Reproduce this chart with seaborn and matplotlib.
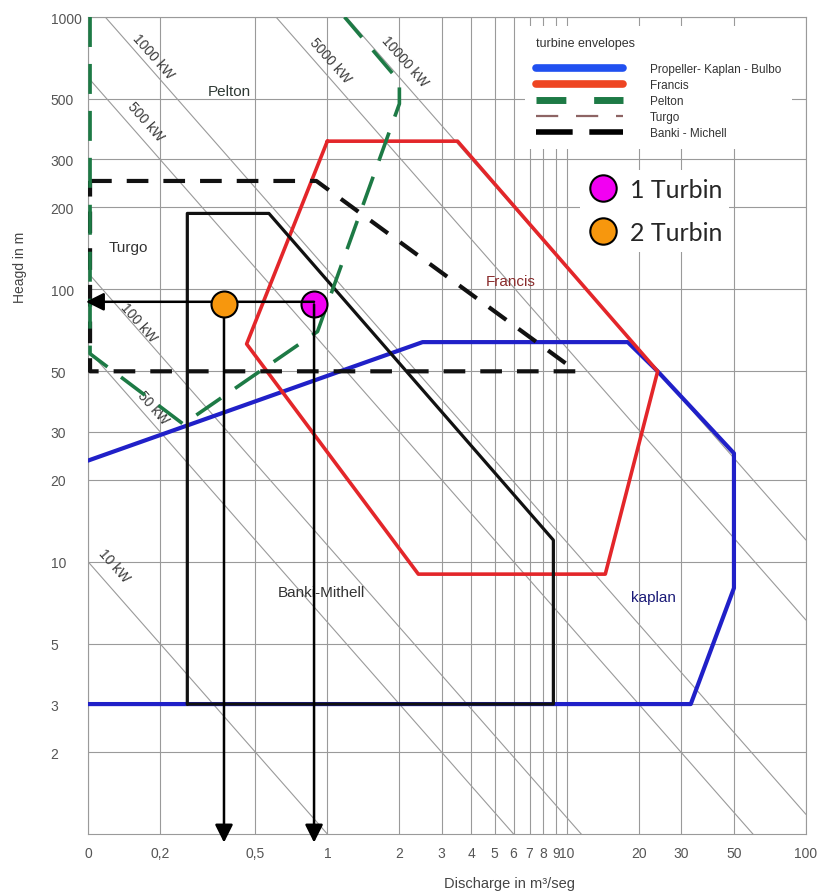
import numpy as np
import pandas as pd
import seaborn as sns
import matplotlib.pyplot as plt
from matplotlib.lines import Line2D

# --- envelopes: discharge Q (m3/s) and head H (m) ---
kaplan_q = [0.1, 2.5, 18, 24, 50, 50, 33, 0.1]
kaplan_h = [23.5, 64, 64, 50, 25, 8, 3, 3]

francis_q = [1.0, 3.5, 24, 14.5, 2.4, 0.46, 1.0]
francis_h = [350, 350, 50, 9, 9, 63, 350]

pelton_q = [0.102, 0.102, 0.25, 0.91, 2.0, 2.0, 1.18]
pelton_h = [1000, 58, 32, 70, 480, 580, 1000]

turgo_q = [0.102, 0.9, 11, 0.102, 0.102]
turgo_h = [250, 250, 50, 50, 250]

banki_q = [0.26, 0.26, 0.57, 8.8, 8.8, 0.26]
banki_h = [3, 190, 190, 12, 3, 3]

# --- constant power lines (Q*H along each line) ---
power_labels = ["10 kW", "50 kW", "100 kW", "500 kW", "1000 kW", "5000 kW", "10000 kW"]
power_qh = [1.0, 6.0, 11.5, 60, 118, 610, 1200]
power_label_q = [0.128, 0.187, 0.163, 0.174, 0.187, 1.03, 2.11]
power_label_h = [9.75, 36.8, 76, 415, 719, 695, 689]

# --- operating points ---
turbine_names = ["1 Turbin", "2 Turbin"]
turbine_q = [0.88, 0.37]
turbine_h = [88, 88]
turbine_colors = ["#f200f2", "#f7970d"]

envelope_names = ["Propeller- Kaplan - Bulbo", "Francis", "Pelton", "Turgo", "Banki - Michell"]

x_ticks = [0.1, 0.2, 0.5, 1, 2, 3, 4, 5, 6, 7, 8, 9, 10, 20, 30, 50, 100]
x_labels = ["0", "0,2", "0,5", "1", "2", "3", "4", "5", "6", "7", "8", "9", "10", "20", "30", "50", "100"]
y_ticks = [2, 3, 5, 10, 20, 30, 50, 100, 200, 300, 500, 1000]

sns.set_theme(style="white")
plt.rcParams["font.family"] = ["Liberation Sans", "DejaVu Sans"]

W, H = 826, 895
fig = plt.figure(figsize=(W / 100, H / 100), dpi=100)
fig.patch.set_facecolor("white")
ax = fig.add_axes([88 / W, (H - 835) / H, (806 - 88) / W, (835 - 18) / H])
ax.set_xscale("log")
ax.set_yscale("log")
ax.set_xlim(0.1, 100)
ax.set_ylim(1, 1000)

# power lines
q_ends = np.array([0.1, 100.0])
for qh in power_qh:
    sns.lineplot(x=q_ends, y=qh / q_ends, sort=False, estimator=None,
                 color="#9a9a9a", lw=0.8, ax=ax, zorder=1.5)
for lab, lq, lh in zip(power_labels, power_label_q, power_label_h):
    ax.text(lq, lh, lab, rotation=-48.6, ha="center", va="center",
            fontsize=10, color="#3a3a3a", zorder=2)

# envelopes
env = [
    (kaplan_q, kaplan_h, dict(color="#2020c8", lw=3.0)),
    (francis_q, francis_h, dict(color="#e3262a", lw=2.6)),
    (banki_q, banki_h, dict(color="#111111", lw=2.3)),
    (turgo_q, turgo_h, dict(color="#111111", lw=3.0, linestyle=(0, (5.2, 3.6)))),
    (pelton_q, pelton_h, dict(color="#1d7a45", lw=2.6, linestyle=(0, (8.3, 4.7)))),
]
for q, h, kw in env:
    df = pd.DataFrame({"Q": q, "H": h})
    sns.lineplot(data=df, x="Q", y="H", sort=False, estimator=None, ax=ax,
                 zorder=3, **kw)

# region labels
ax.text(0.39, 534, "Pelton", ha="center", va="center", fontsize=11, color="#2f3a35")
ax.text(0.147, 143, "Turgo", ha="center", va="center", fontsize=11, color="#333333")
ax.text(5.84, 107, "Francis", ha="center", va="center", fontsize=11, color="#8a2c2c")
ax.text(0.94, 7.76, "Banki-Mithell", ha="center", va="center", fontsize=11, color="#333333")
ax.text(23, 7.4, "kaplan", ha="center", va="center", fontsize=11, color="#1a1a78")

# arrows from the operating points
arrow = dict(arrowstyle="-|>,head_length=0.6,head_width=0.3", color="black",
             lw=1.8, mutation_scale=18, shrinkA=0, shrinkB=0)
ax.annotate("", xy=(0.098, 90), xytext=(turbine_q[0], 90), arrowprops=arrow,
            annotation_clip=False, zorder=4)
for q, h in zip(turbine_q, turbine_h):
    ax.annotate("", xy=(q, 0.93), xytext=(q, h), arrowprops=arrow,
                annotation_clip=False, zorder=4)

sns.scatterplot(x=[turbine_q[0]], y=[turbine_h[0]], s=350, color=turbine_colors[0],
                edgecolor="black", linewidth=1.5, ax=ax, zorder=3.5)
sns.scatterplot(x=[turbine_q[1]], y=[turbine_h[1]], s=350, color=turbine_colors[1],
                edgecolor="black", linewidth=1.5, ax=ax, zorder=5)

# axes styling
ax.minorticks_off()
ax.set_xticks(x_ticks)
ax.set_xticklabels(x_labels)
ax.set_yticks(y_ticks)
ax.set_yticklabels([str(v) for v in y_ticks])
ax.minorticks_off()
ax.grid(True, which="major", color="#9a9a9a", lw=0.8)
ax.set_axisbelow(True)
ax.tick_params(axis="both", length=0, labelsize=10, labelcolor="#555555")
ax.tick_params(axis="x", pad=9)
ax.tick_params(axis="y", pad=27)
for lbl in ax.get_yticklabels():
    lbl.set_horizontalalignment("left")
for sp in ax.spines.values():
    sp.set_color("#9a9a9a")
    sp.set_linewidth(0.8)
ax.set_xlabel("")
ax.set_ylabel("")

fig.text(510 / W, 1 - 884 / H, "Discharge in m³/seg", ha="center", va="center",
         fontsize=10.5, color="#444444")
fig.text(20 / W, 1 - 267 / H, "Heagd in m", ha="center", va="center",
         rotation=90, fontsize=10, color="#444444")

# legends
env_handles = [
    Line2D([], [], color="#2050f0", lw=5.5),
    Line2D([], [], color="#ee4522", lw=5.5),
    Line2D([], [], color="#1d7a45", lw=5, linestyle=(0, (4.3, 4.0))),
    Line2D([], [], color="#8d6464", lw=1.6, linestyle=(0, (10, 8))),
    Line2D([], [], color="black", lw=4, linestyle=(0, (6.6, 3))),
]
leg1 = ax.legend(env_handles, envelope_names, title="turbine envelopes",
                 loc="upper left", bbox_to_anchor=(525 / W, 1 - 27 / H),
                 bbox_transform=fig.transFigure, fontsize=8.5, title_fontsize=9,
                 handlelength=7.4, handletextpad=2.3, labelspacing=0.33,
                 borderpad=0.9, borderaxespad=0, frameon=True, fancybox=False,
                 edgecolor="none", facecolor="white", framealpha=1, alignment="left")
leg1._legend_box.sep = 10.5  # gap between title and the entries
for t in leg1.get_texts():
    t.set_color("#333333")
leg1.get_title().set_color("#333333")
ax.add_artist(leg1)

tur_handles = [Line2D([], [], marker="o", linestyle="none", markersize=19,
                      markerfacecolor=c, markeredgecolor="black", markeredgewidth=1.5)
               for c in turbine_colors]
leg2 = ax.legend(tur_handles, turbine_names, loc="upper left",
                 bbox_to_anchor=(580 / W, 1 - 171 / H), bbox_transform=fig.transFigure,
                 prop={"family": ["Lato", "DejaVu Sans"], "size": 18},
                 handlelength=1.2, handletextpad=0.48, labelspacing=0.82,
                 borderpad=0.3, borderaxespad=0, frameon=True, fancybox=False,
                 edgecolor="none", facecolor="white", framealpha=1)

fig.savefig("out.png", dpi=100)
